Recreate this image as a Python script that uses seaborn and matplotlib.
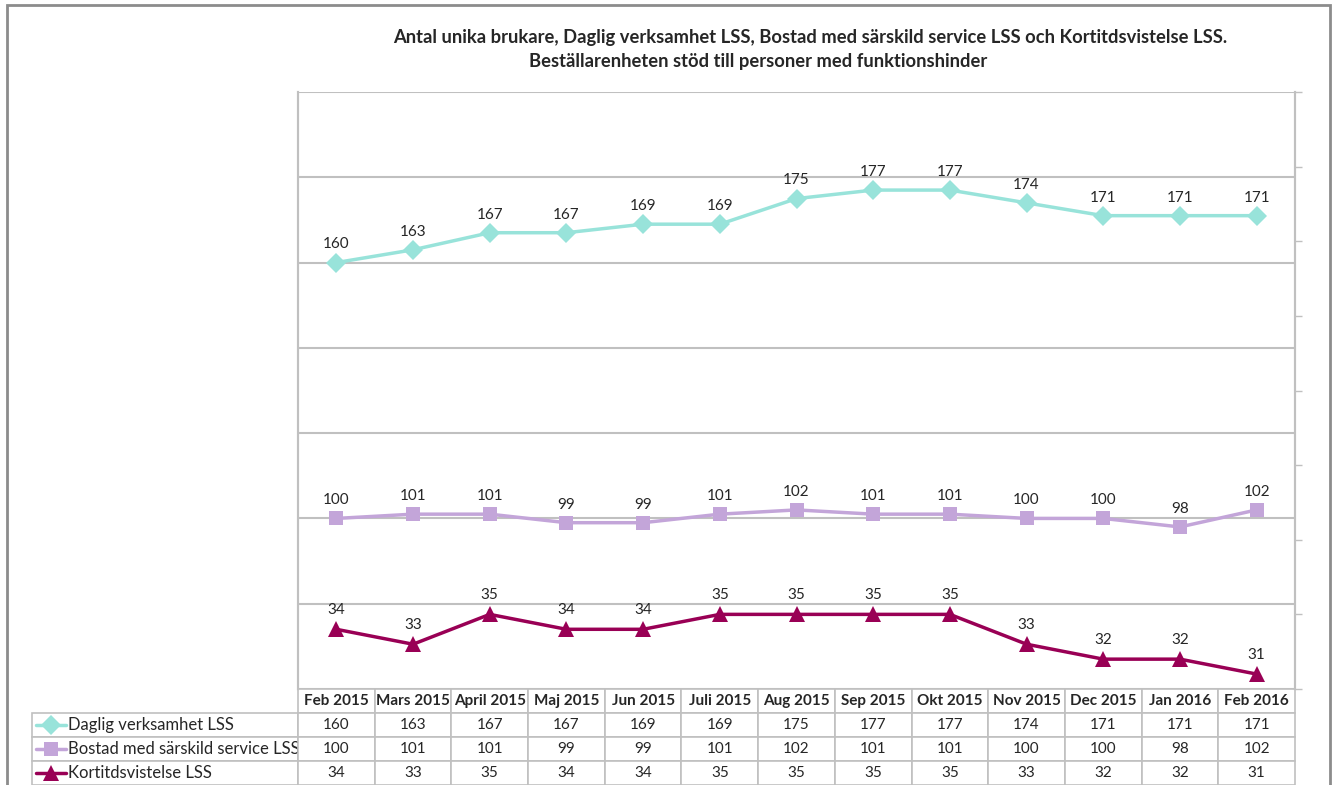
import numpy as np
import pandas as pd
import matplotlib
matplotlib.use("Agg")
import matplotlib.pyplot as plt
from matplotlib.lines import Line2D
from matplotlib.patches import Rectangle
import seaborn as sns

months = ["Feb 2015", "Mars 2015", "April 2015", "Maj 2015", "Jun 2015", "Juli 2015",
          "Aug 2015", "Sep 2015", "Okt 2015", "Nov 2015", "Dec 2015", "Jan 2016", "Feb 2016"]
daglig = [160, 163, 167, 167, 169, 169, 175, 177, 177, 174, 171, 171, 171]
bostad = [100, 101, 101, 99, 99, 101, 102, 101, 101, 100, 100, 98, 102]
kort = [34, 33, 35, 34, 34, 35, 35, 35, 35, 33, 32, 32, 31]
names = ["Daglig verksamhet LSS", "Bostad med särskild service LSS", "Kortitdsvistelse LSS"]
colors = ["#98E3DA", "#C3A5D9", "#990055"]
markers = ["D", "s", "^"]

title1 = "Antal unika brukare, Daglig verksamhet LSS, Bostad med särskild service LSS och Kortitdsvistelse LSS."
title2 = "Beställarenheten stöd till personer med funktionshinder"

sns.set_theme(style="white")
plt.rcParams["font.family"] = ["Lato", "DejaVu Sans"]

df = pd.DataFrame({"month": months, "daglig": daglig, "bostad": bostad, "kort": kort})

W, H = 1338, 785
fig = plt.figure(figsize=(W / 100, H / 100), dpi=100)
ax = fig.add_axes([298 / W, 1 - 689 / H, (1295 - 298) / W, (689 - 92) / H])
ax2 = ax.twinx()

grid_c = "#C0C0C0"

# primary axis (Daglig + Bostad)
sns.lineplot(data=df, x="month", y="daglig", ax=ax, color=colors[0], marker=markers[0],
             markersize=10, markeredgewidth=0, linewidth=2.5, sort=False, zorder=3)
sns.lineplot(data=df, x="month", y="bostad", ax=ax, color=colors[1], marker=markers[1],
             markersize=10, markeredgewidth=0, linewidth=2.5, sort=False, zorder=3)
# secondary axis (Kortitdsvistelse)
sns.lineplot(data=df, x="month", y="kort", ax=ax2, color=colors[2], marker=markers[2],
             markersize=11, markeredgewidth=0, linewidth=2.5, sort=False, zorder=3)

ax.set_xlim(-0.5, len(months) - 0.5)
ax.set_ylim(60, 200)
ax.set_yticks(np.arange(60, 201, 20))
ax.yaxis.grid(True, color=grid_c, linewidth=1.5)
ax.set_axisbelow(True)
ax.tick_params(left=False, bottom=False, labelleft=False, labelbottom=False)
ax.set_xlabel("")
ax.set_ylabel("")

ax2.set_ylim(30, 70)
ax2.set_yticks(np.arange(30, 71, 5))
ax2.tick_params(axis="y", right=True, direction="out", length=5, width=1, colors=grid_c,
                labelright=False)
ax2.set_ylabel("")

for a in (ax, ax2):
    for s in ["top", "bottom"]:
        a.spines[s].set_visible(False)
    a.spines["left"].set_color(grid_c)
    a.spines["right"].set_color(grid_c)
    a.spines["left"].set_linewidth(1.5)
    a.spines["right"].set_linewidth(1.5)

# data labels
for i, m in enumerate(months):
    ax.annotate(str(daglig[i]), (i, daglig[i]), xytext=(0, 8), textcoords="offset points",
                ha="center", va="bottom", fontsize=11)
    ax.annotate(str(bostad[i]), (i, bostad[i]), xytext=(0, 8), textcoords="offset points",
                ha="center", va="bottom", fontsize=11)
    ax2.annotate(str(kort[i]), (i, kort[i]), xytext=(0, 9), textcoords="offset points",
                 ha="center", va="bottom", fontsize=11)

# data table (first column holds the series names)
cell_text = [[n] + [str(v) for v in vals] for n, vals in zip(names, [daglig, bostad, kort])]
data_w = (1295 - 298) / len(months)
label_w = 298 - 32
total_w = 1295 - 32
ax_w = 1295 - 298
ax_h = 689 - 92
tbl = ax.table(cellText=cell_text, colLabels=[""] + months, cellLoc="center",
               colWidths=[label_w / total_w] + [data_w / total_w] * len(months),
               bbox=[-label_w / ax_w, -(785 - 689) / ax_h, total_w / ax_w, (785 - 689) / ax_h])
tbl.auto_set_font_size(False)
tbl.set_fontsize(11)
for (r, c), cell in tbl.get_celld().items():
    cell.set_edgecolor(grid_c)
    cell.set_linewidth(1.2)
    if r == 0:
        cell.get_text().set_fontweight("bold")
    if c == 0:
        cell.get_text().set_ha("left")
        cell.get_text().set_fontsize(12)
        cell.PAD = 36 / label_w
        cell._loc = "left"
    if r == 0 and c == 0:
        cell.set_visible(False)

# legend keys in row-label cells
row_y = [724.5, 749, 773]
for k in range(3):
    y = 1 - row_y[k] / H
    fig.add_artist(Line2D([36 / W, 66 / W], [y, y], color=colors[k], linewidth=2.5,
                          transform=fig.transFigure))
    fig.add_artist(Line2D([51 / W], [y], color=colors[k], marker=markers[k],
                          markersize=10 if k < 2 else 11, markeredgewidth=0,
                          transform=fig.transFigure))

fig.text(810 / W, 1 - 37 / H, title1, ha="center", va="center", fontsize=13.2, fontweight="bold")
fig.text(758 / W, 1 - 62 / H, title2, ha="center", va="center", fontsize=13.2, fontweight="bold")

fig.add_artist(Rectangle((7 / W, -0.05), (1330 - 7) / W, 1.05 - 5 / H, transform=fig.transFigure,
                         fill=False, edgecolor="#8C8C8C", linewidth=2))

fig.savefig("out.png", dpi=100)
